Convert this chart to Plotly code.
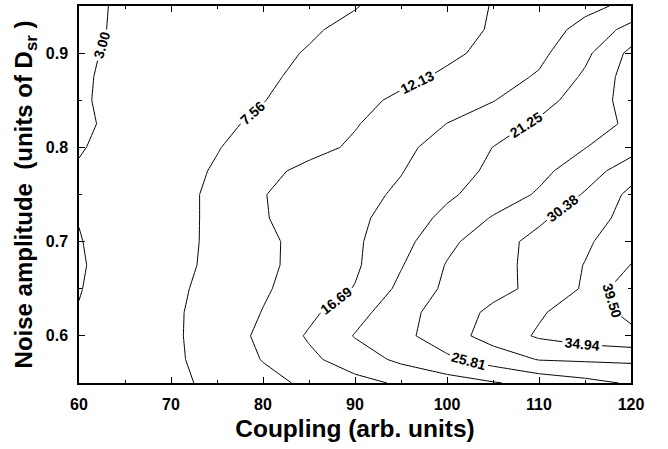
import plotly.graph_objects as go

# Coupling (arb. units) grid and noise amplitude (units of D_sr) grid
coupling = [60, 65, 70, 75, 80, 85, 90, 95, 100, 105, 110, 115, 120]
noise = [0.55, 0.575, 0.60, 0.625, 0.65, 0.675, 0.70, 0.725, 0.75,
         0.775, 0.80, 0.825, 0.85, 0.875, 0.90, 0.925, 0.95]

# values estimated from the contour picture (one row per noise level)
row_550 = [4.8, 5.7, 6.7, 8.44, 10.7, 13.0, 15.3, 17.3, 19.1, 20.9, 22.7, 24.5, 26.3]
row_575 = [4.3, 5.6, 6.87, 9.06, 12.33, 15.7, 19.0, 22.2, 25.0, 27.8, 30.6, 31.0, 31.2]
row_600 = [3.6, 5.2, 6.85, 9.5, 13.1, 17.2, 21.5, 24.6, 28.3, 32.3, 35.5, 37.3, 38.5]
row_625 = [3.15, 5.0, 6.85, 9.35, 12.27, 15.67, 19.6, 24.1, 28.0, 31.3, 34.4, 37.4, 40.5]
row_650 = [2.85, 4.77, 6.65, 8.94, 11.6, 14.2, 16.9, 22.3, 26.7, 29.05, 31.5, 35.5, 43.2]
row_675 = [2.7, 4.5, 6.35, 8.5, 11.2, 13.7, 16.0, 20.95, 26.1, 28.8, 31.8, 35.1, 39.6]
row_700 = [2.85, 4.57, 6.3, 8.36, 11.2, 13.6, 15.99, 19.7, 24.7, 28.6, 31.7, 34.2, 38.0]
row_725 = [3.1, 4.7, 6.3, 8.33, 11.85, 13.85, 15.7, 18.6, 22.45, 26.15, 29.6, 33.0, 36.4]
row_750 = [3.5, 4.95, 6.4, 8.27, 11.98, 13.7, 15.3, 17.36, 20.5, 23.4, 26.3, 30.8, 36.0]
row_775 = [3.3, 4.8, 6.25, 7.9, 10.97, 13.2, 14.85, 16.5, 19.3, 22.1, 24.7, 28.1, 33.0]
row_800 = [2.75, 4.3, 5.85, 7.4, 9.1, 10.8, 12.76, 15.6, 18.5, 21.3, 23.5, 25.7, 28.5]
row_825 = [2.45, 3.89, 5.32, 6.76, 8.33, 10.1, 11.85, 14.2, 16.74, 19.36, 21.9, 24.2, 26.45]
row_850 = [2.67, 3.86, 5.06, 6.25, 7.44, 9.2, 11.0, 12.86, 14.7, 16.5, 19.6, 23.3, 27.5]
row_875 = [2.65, 3.74, 4.84, 5.93, 7.03, 8.3, 9.72, 11.14, 12.75, 14.8, 17.15, 21.95, 27.8]
row_900 = [2.54, 3.58, 4.62, 5.67, 6.71, 7.78, 9.0, 10.2, 11.4, 13.1, 15.6, 20.2, 26.9]
row_925 = [2.43, 3.38, 4.33, 5.28, 6.23, 7.18, 8.34, 9.65, 10.96, 12.4, 14.84, 17.88, 22.8]
row_950 = [2.47, 3.3, 4.1, 4.9, 5.8, 6.6, 7.4, 8.95, 10.6, 12.27, 13.97, 15.67, 17.6]

z = [row_550, row_575, row_600, row_625, row_650, row_675, row_700, row_725,
     row_750, row_775, row_800, row_825, row_850, row_875, row_900, row_925, row_950]

# contour levels: 3.00, 7.56, 12.13, ... 39.50
level_start = 3.0
level_end = 39.5
level_step = 4.5625

x_ticks = [60, 70, 80, 90, 100, 110, 120]
y_ticks = [0.6, 0.7, 0.8, 0.9]

# the top level's closed region is too short for an automatic label; label it by hand
top_level_label = "39.50"
top_label_at = (118.0, 0.6375)

FONT = "Liberation Sans, Arial, Helvetica, sans-serif"
LABEL_FONT = dict(family=FONT, size=14, color="black", weight="bold")

fig = go.Figure(go.Contour(
    x=coupling, y=noise, z=z,
    contours=dict(coloring="lines", start=level_start, end=level_end, size=level_step,
                  showlabels=True, labelformat=".2f", labelfont=LABEL_FONT),
    colorscale=[[0, "black"], [1, "black"]], showscale=False,
    line=dict(width=1, smoothing=0),
    hoverinfo="skip",
))

fig.add_annotation(
    x=top_label_at[0], y=top_label_at[1], xref="x", yref="y",
    text=top_level_label, showarrow=False, textangle=73,
    font=LABEL_FONT, bgcolor="white", borderpad=0,
)

axis_common = dict(
    showgrid=False, zeroline=False, showline=True, linecolor="black", linewidth=1.5,
    mirror="ticks", ticks="inside", ticklen=6, tickwidth=1, tickcolor="black",
    tickfont=dict(family=FONT, size=16, color="black", weight="bold"),
)

fig.update_layout(
    width=668, height=449,
    margin=dict(l=79, r=37, t=4, b=66),
    paper_bgcolor="white", plot_bgcolor="white",
    font=dict(family=FONT, color="black"),
    xaxis=dict(
        range=[60, 120], tickmode="array", tickvals=x_ticks,
        ticktext=[str(v) for v in x_ticks],
        minor=dict(ticks="inside", dtick=5, tick0=60, ticklen=3, tickcolor="black"),
        ticklabelstandoff=6,
        title=dict(text="Coupling (arb. units)", standoff=8,
                   font=dict(family=FONT, size=24.5, color="black", weight="bold")),
        **axis_common),
    yaxis=dict(
        range=[0.55, 0.95], tickmode="array", tickvals=y_ticks,
        ticktext=[f"{v:.1f}" for v in y_ticks],
        minor=dict(ticks="inside", dtick=0.05, tick0=0.55, ticklen=3, tickcolor="black"),
        ticklabelstandoff=6,
        title=dict(text="Noise amplitude\u00a0\u00a0(units of D<sub>sr</sub>\u00a0)", standoff=6,
                   font=dict(family=FONT, size=24, color="black", weight="bold")),
        **axis_common),
)

fig.write_html("out.html")
